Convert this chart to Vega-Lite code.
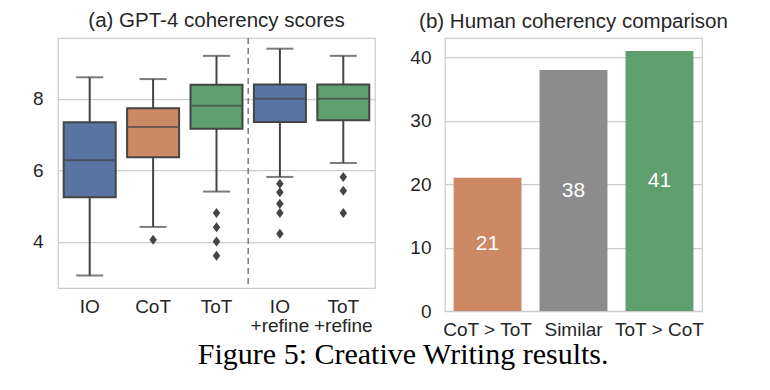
{
  "$schema": "https://vega.github.io/schema/vega-lite/v6.json",
  "padding": {"left": 31, "top": 10, "right": 5, "bottom": 5},
  "bounds": "flush",
  "spacing": 70,
  "resolve": {"scale": {"color": "independent"}},
  "config": {
    "font": "Liberation Sans",
    "view": {"stroke": "#cccccc", "strokeWidth": 1.25},
    "axis": {
      "labelFont": "Liberation Sans",
      "labelFontSize": 19,
      "labelColor": "#262626",
      "domain": false,
      "ticks": false,
      "title": null,
      "gridColor": "#cccccc",
      "gridWidth": 1.25
    },
    "title": {"font": "Liberation Sans", "fontSize": 20.5, "fontWeight": "normal", "color": "#262626"}
  },
  "title": {
    "text": "Figure 5: Creative Writing results.",
    "orient": "bottom",
    "font": "Liberation Serif",
    "fontSize": 30,
    "fontWeight": "normal",
    "color": "#000000",
    "anchor": "middle",
    "frame": "bounds",
    "dx": 23,
    "offset": 0
  },
  "datasets": {
    "boxes": [
      {"method": "IO", "min": 3.05, "q1": 5.24, "median": 6.28, "q3": 7.34, "max": 8.6},
      {"method": "CoT", "min": 4.41, "q1": 6.36, "median": 7.21, "q3": 7.73, "max": 8.55},
      {"method": "ToT", "min": 5.4, "q1": 7.16, "median": 7.8, "q3": 8.39, "max": 9.2},
      {"method": "IO +refine", "min": 5.81, "q1": 7.35, "median": 8.0, "q3": 8.4, "max": 9.4},
      {"method": "ToT +refine", "min": 6.2, "q1": 7.4, "median": 8.0, "q3": 8.4, "max": 9.2}
    ],
    "outliers": [
      {"method": "CoT", "score": 4.05},
      {"method": "ToT", "score": 4.8},
      {"method": "ToT", "score": 4.4},
      {"method": "ToT", "score": 4.0},
      {"method": "ToT", "score": 3.6},
      {"method": "IO +refine", "score": 5.62},
      {"method": "IO +refine", "score": 5.38},
      {"method": "IO +refine", "score": 5.06},
      {"method": "IO +refine", "score": 4.8},
      {"method": "IO +refine", "score": 4.22},
      {"method": "ToT +refine", "score": 5.81},
      {"method": "ToT +refine", "score": 5.42},
      {"method": "ToT +refine", "score": 4.8}
    ],
    "divider": [{"method": "IO +refine"}],
    "human": [
      {"label": "CoT > ToT", "count": 21},
      {"label": "Similar", "count": 38},
      {"label": "ToT > CoT", "count": 41}
    ]
  },
  "hconcat": [
    {
      "width": 317,
      "height": 250,
      "title": {"text": "(a) GPT-4 coherency scores", "offset": 6},
      "encoding": {
        "x": {
          "field": "method",
          "type": "nominal",
          "sort": ["IO", "CoT", "ToT", "IO +refine", "ToT +refine"],
          "scale": {"paddingInner": 0, "paddingOuter": 0},
          "axis": {"labelAngle": 0, "labelExpr": "split(datum.label, ' ')", "labelPadding": 9, "labelLineHeight": 19, "grid": false}
        }
      },
      "layer": [
        {
          "data": {"name": "divider"},
          "mark": {"type": "rule", "strokeDash": [6, 4], "color": "#7a7a7a", "strokeWidth": 1.5},
          "encoding": {
            "x": {"field": "method", "type": "nominal", "bandPosition": 0, "sort": ["IO", "CoT", "ToT", "IO +refine", "ToT +refine"]}
          }
        },
        {
          "data": {"name": "boxes"},
          "mark": {"type": "rule", "color": "#444444", "strokeWidth": 2},
          "encoding": {
            "y": {"field": "min", "type": "quantitative", "scale": {"domain": [2.7, 9.7], "nice": false, "zero": false}, "axis": {"values": [4, 6, 8], "grid": true, "labelPadding": 15}},
            "y2": {"field": "max"}
          }
        },
        {
          "data": {"name": "boxes"},
          "mark": {"type": "bar", "stroke": "#444444", "strokeWidth": 2, "width": {"band": 0.82}},
          "encoding": {
            "y": {"field": "q1", "type": "quantitative"},
            "y2": {"field": "q3"},
            "color": {
              "field": "method",
              "type": "nominal",
              "scale": {"domain": ["IO", "CoT", "ToT", "IO +refine", "ToT +refine"], "range": ["#5875a4", "#cc8963", "#5f9e6e", "#5875a4", "#5f9e6e"]},
              "legend": null
            }
          }
        },
        {
          "data": {"name": "boxes"},
          "mark": {"type": "tick", "color": "#444444", "thickness": 2, "size": 50},
          "encoding": {"y": {"field": "median", "type": "quantitative"}}
        },
        {
          "data": {"name": "boxes"},
          "mark": {"type": "tick", "color": "#444444", "thickness": 2, "size": 27},
          "encoding": {"y": {"field": "min", "type": "quantitative"}}
        },
        {
          "data": {"name": "boxes"},
          "mark": {"type": "tick", "color": "#444444", "thickness": 2, "size": 27},
          "encoding": {"y": {"field": "max", "type": "quantitative"}}
        },
        {
          "data": {"name": "outliers"},
          "mark": {"type": "point", "shape": "M0,-1L0.75,0L0,1L-0.75,0Z", "filled": true, "color": "#444444", "size": 100, "opacity": 1},
          "encoding": {"y": {"field": "score", "type": "quantitative"}}
        }
      ]
    },
    {
      "width": 257,
      "height": 273,
      "title": {"text": "(b) Human coherency comparison", "offset": 6},
      "data": {"name": "human"},
      "encoding": {
        "x": {
          "field": "label",
          "type": "nominal",
          "sort": ["CoT > ToT", "Similar", "ToT > CoT"],
          "scale": {"paddingInner": 0.21, "paddingOuter": 0.1},
          "axis": {"labelAngle": 0, "labelPadding": 9, "grid": false}
        }
      },
      "layer": [
        {
          "mark": {"type": "bar"},
          "encoding": {
            "y": {"field": "count", "type": "quantitative", "scale": {"domain": [0, 43.05], "nice": false}, "axis": {"values": [0, 10, 20, 30, 40], "grid": true, "labelPadding": 14}},
            "color": {
              "field": "label",
              "type": "nominal",
              "scale": {"domain": ["CoT > ToT", "Similar", "ToT > CoT"], "range": ["#cc8963", "#8c8c8c", "#5f9e6e"]},
              "legend": null
            }
          }
        },
        {
          "mark": {"type": "text", "color": "#ffffff", "fontSize": 21, "baseline": "middle", "align": "center"},
          "encoding": {
            "y": {"field": "count", "type": "quantitative", "scale": {"domain": [0, 86.1], "nice": false}, "axis": null},
            "text": {"field": "count", "type": "quantitative"}
          }
        }
      ],
      "resolve": {"scale": {"y": "independent"}}
    }
  ]
}
